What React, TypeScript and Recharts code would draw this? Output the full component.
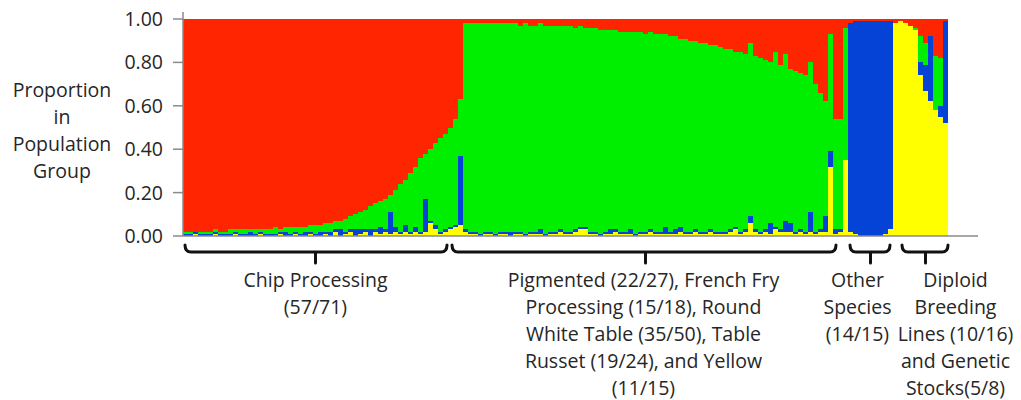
import { BarChart, Bar, XAxis, YAxis } from "recharts";

// admixture proportions per sample, in percent (bottom to top: yellow, blue, green, red)
const YELLOW = [
  0, 0, 1, 0, 0, 0, 1, 0, 0, 0,
  1, 0, 0, 0, 0, 1, 0, 0, 0, 1,
  0, 0, 1, 0, 0, 1, 0, 0, 1, 0,
  2, 0, 1, 2, 0, 1, 2, 0, 2, 1,
  2, 1, 2, 1, 2, 1, 2, 1, 2, 6,
  3, 1, 2, 3, 4, 5, 2, 1, 1, 0,
  1, 1, 0, 1, 1, 0, 1, 1, 0, 1,
  1, 1, 0, 1, 1, 2, 1, 1, 2, 3,
  3, 1, 1, 0, 1, 1, 2, 1, 1, 1,
  0, 1, 1, 2, 1, 1, 1, 1, 1, 2,
  1, 1, 2, 1, 1, 2, 1, 1, 1, 2,
  3, 1, 2, 6, 2, 1, 2, 1, 3, 2,
  2, 2, 1, 2, 1, 2, 1, 2, 2, 32,
  1, 2, 35, 2, 1, 0, 0, 0, 0, 0,
  1, 3, 98, 99, 98, 97, 95, 74, 67, 62,
  58, 55, 52,
];

const BLUE = [
  1, 1, 1, 1, 1, 1, 1, 1, 1, 1,
  1, 1, 1, 2, 1, 1, 1, 1, 1, 1,
  2, 1, 1, 1, 2, 1, 1, 2, 1, 2,
  1, 3, 1, 1, 3, 2, 1, 3, 1, 3,
  1, 10, 2, 1, 3, 1, 2, 1, 15, 1,
  2, 1, 1, 1, 1, 32, 1, 1, 1, 1,
  1, 1, 1, 1, 1, 2, 1, 1, 1, 1,
  1, 2, 1, 1, 1, 1, 1, 1, 1, 1,
  1, 1, 1, 1, 1, 2, 1, 1, 1, 2,
  1, 1, 1, 1, 1, 1, 3, 1, 2, 2,
  1, 1, 1, 1, 1, 1, 1, 1, 1, 1,
  1, 1, 1, 3, 1, 1, 1, 5, 1, 1,
  5, 4, 1, 1, 1, 9, 1, 1, 7, 7,
  2, 1, 0, 96, 98, 99, 99, 99, 99, 99,
  98, 96, 0, 0, 0, 0, 0, 6, 12, 30,
  0, 5, 47,
];

const GREEN = [
  1, 1, 0, 1, 1, 1, 1, 1, 1, 2,
  1, 2, 2, 1, 2, 1, 2, 2, 3, 1,
  2, 3, 2, 3, 2, 3, 4, 3, 4, 4,
  4, 4, 6, 6, 7, 8, 9, 11, 12, 12,
  14, 8, 17, 22, 21, 27, 28, 34, 21, 33,
  38, 43, 44, 46, 49, 26, 95, 96, 96, 97,
  96, 96, 97, 96, 96, 96, 96, 95, 97, 95,
  95, 95, 96, 95, 95, 94, 95, 95, 93, 93,
  92, 94, 94, 94, 93, 92, 92, 92, 92, 91,
  93, 92, 91, 91, 91, 91, 89, 90, 89, 87,
  89, 88, 87, 87, 87, 85, 86, 85, 84, 83,
  81, 83, 81, 80, 80, 80, 78, 74, 81, 76,
  77, 71, 74, 72, 72, 69, 68, 63, 53, 54,
  51, 51, 61, 0, 0, 0, 0, 0, 0, 0,
  0, 0, 0, 0, 0, 0, 1, 12, 10, 0,
  25, 22, 0,
];

const RED = [
  98, 98, 98, 98, 98, 98, 97, 98, 98, 97,
  97, 97, 97, 97, 97, 97, 97, 97, 96, 97,
  96, 96, 96, 96, 96, 95, 95, 95, 94, 94,
  93, 93, 92, 91, 90, 89, 88, 86, 85, 84,
  83, 81, 79, 76, 74, 71, 68, 64, 62, 60,
  57, 55, 53, 50, 46, 37, 2, 2, 2, 2,
  2, 2, 2, 2, 2, 2, 2, 3, 2, 3,
  3, 2, 3, 3, 3, 3, 3, 3, 4, 3,
  4, 4, 4, 5, 5, 5, 5, 6, 6, 6,
  6, 6, 7, 6, 7, 7, 7, 8, 8, 9,
  9, 10, 10, 11, 11, 12, 12, 13, 14, 14,
  15, 15, 16, 11, 17, 18, 19, 20, 15, 21,
  16, 23, 24, 25, 26, 20, 30, 34, 38, 7,
  46, 46, 4, 2, 1, 1, 1, 1, 1, 1,
  1, 1, 2, 1, 2, 3, 4, 8, 11, 8,
  17, 18, 1,
];

const Y_TICKS = [0, 20, 40, 60, 80, 100];
const Y_TITLE = ["Proportion", "in", "Population", "Group"];

// brackets under the plot: from/to are in sample units, tick is the sample the label hangs on
const GROUPS = [
  { tick: 26, from: 0.4, to: 52.8, dx: 0, lines: ["Chip Processing", "(57/71)"] },
  {
    tick: 92,
    from: 53.8,
    to: 130.6,
    dx: -2,
    lines: [
      "Pigmented (22/27), French Fry",
      "Processing (15/18), Round",
      "White Table (35/50), Table",
      "Russet (19/24), and Yellow",
      "(11/15)",
    ],
  },
  { tick: 137, from: 133.4, to: 141.4, dx: -13, lines: ["Other", "Species", "(14/15)"] },
  {
    tick: 148,
    from: 143.8,
    to: 153,
    dx: 30,
    lines: ["Diploid", "Breeding", "Lines (10/16)", "and Genetic", "Stocks(5/8)"],
  },
];

const data = YELLOW.map((y, i) => ({
  id: i,
  yellow: y,
  blue: BLUE[i],
  green: GREEN[i],
  red: RED[i],
}));

const FONT = "'Open Sans', sans-serif";
const TEXT = "#262626";
const AXIS = "#8a8a8a";
const W = 1021;
const H = 400;
const PLOT_LEFT = 183;
const PLOT_RIGHT = 978;
const PAD_RIGHT = 30;
const BAND = (PLOT_RIGHT - PAD_RIGHT - PLOT_LEFT) / data.length;

function GroupTick(props: any) {
  const { x, y, payload } = props;
  const g = GROUPS.find((gr) => gr.tick === payload.value);
  if (!g) return null;
  const x1 = x + (g.from - g.tick - 0.5) * BAND;
  const x2 = x + (g.to - g.tick - 0.5) * BAND;
  const ly = y + 16;
  const d =
    `M${x1},${y + 9} Q${x1},${ly} ${x1 + 6},${ly} L${x2 - 6},${ly} Q${x2},${ly} ${x2},${y + 9}` +
    ` M${x},${ly} L${x},${ly + 11}`;
  const cx = x + g.dx;
  return (
    <g>
      <path d={d} fill="none" stroke="#111" strokeWidth={3} strokeLinecap="round" />
      <text textAnchor="middle" fontSize={19.5} fill={TEXT} fontFamily={FONT}>
        {g.lines.map((l, k) => (
          <tspan key={k} x={cx} y={y + 51 + 27 * k}>
            {l}
          </tspan>
        ))}
      </text>
    </g>
  );
}

function YTitle() {
  return (
    <text textAnchor="middle" fontSize={19.5} fill={TEXT} fontFamily={FONT}>
      {Y_TITLE.map((l, k) => (
        <tspan key={k} x={62} y={97 + 27 * k}>
          {l}
        </tspan>
      ))}
    </text>
  );
}

export default function App() {
  return (
    <div style={{ width: W, height: H, margin: "-8px 0 0 -8px", fontFamily: FONT, background: "#fff" }}>
      <BarChart
        width={W}
        height={H}
        data={data}
        margin={{ top: 12, right: W - PLOT_RIGHT, left: 0, bottom: 0 }}
        barCategoryGap={0}
        barGap={0}
      >
        <XAxis
          dataKey="id"
          type="category"
          height={164}
          padding={{ left: 0, right: PAD_RIGHT }}
          ticks={GROUPS.map((g) => g.tick)}
          interval={0}
          tickSize={0}
          tickMargin={0}
          tickLine={false}
          axisLine={{ stroke: AXIS, strokeWidth: 1.5 }}
          tick={<GroupTick />}
        />
        <YAxis
          width={PLOT_LEFT}
          domain={[0, 100]}
          ticks={Y_TICKS}
          interval={0}
          allowDataOverflow
          padding={{ top: 7, bottom: 0 }}
          tickFormatter={(v: number) => (v / 100).toFixed(2)}
          tickSize={10}
          tickMargin={10}
          tickLine={{ stroke: AXIS, strokeWidth: 1.5 }}
          axisLine={{ stroke: AXIS, strokeWidth: 1.5 }}
          tick={{ fill: TEXT, fontSize: 19.5, fontFamily: FONT }}
          label={{ content: () => <YTitle /> }}
        />
        <Bar dataKey="yellow" stackId="a" fill="#ffff00" isAnimationActive={false} shapeRendering="crispEdges" />
        <Bar dataKey="blue" stackId="a" fill="#0543d6" isAnimationActive={false} shapeRendering="crispEdges" />
        <Bar dataKey="green" stackId="a" fill="#00ee00" isAnimationActive={false} shapeRendering="crispEdges" />
        <Bar dataKey="red" stackId="a" fill="#ff2500" isAnimationActive={false} shapeRendering="crispEdges" />
      </BarChart>
    </div>
  );
}
